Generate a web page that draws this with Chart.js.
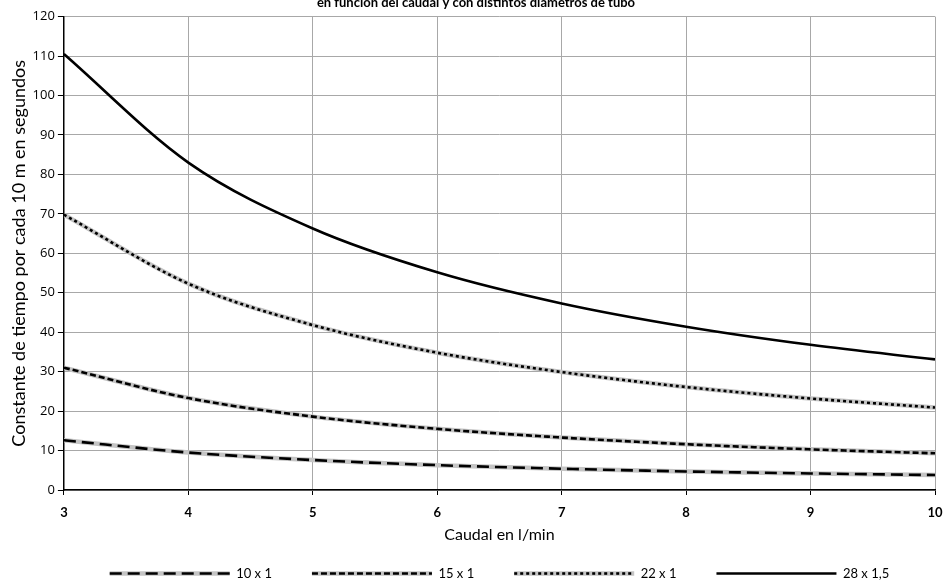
<!DOCTYPE html>
<html><head><meta charset="utf-8">
<script src="https://cdn.jsdelivr.net/npm/chart.js@4/dist/chart.umd.min.js"></script>
<style>
html,body{margin:0;padding:0;background:#fff;overflow:hidden;}
#wrap{width:944px;height:595px;margin-top:-5px;position:relative;}
</style></head><body>
<div id="wrap"><canvas id="c" width="944" height="595"></canvas></div>
<script>
const flows = [3, 4, 5, 6, 7, 8, 9, 10];
const seriesNames = ['10 x 1', '15 x 1', '22 x 1', '28 x 1,5'];
const s10x1 = [12.6, 9.5, 7.6, 6.3, 5.4, 4.7, 4.2, 3.8];
const s15x1 = [31.0, 23.3, 18.6, 15.5, 13.3, 11.6, 10.3, 9.3];
const s22x1 = [69.8, 52.3, 41.8, 34.8, 29.9, 26.1, 23.2, 20.9];
const s28x15 = [110.5, 83.0, 66.3, 55.2, 47.3, 41.4, 36.8, 33.1];
const yTicks = [0, 10, 20, 30, 40, 50, 60, 70, 80, 90, 100, 110, 120];
const titleText = 'en función del caudal y con distintos diámetros de tubo';
const xTitle = 'Caudal en l/min';
const yTitle = 'Constante de tiempo por cada 10 m en segundos';

const toPts = arr => flows.map((x, i) => ({x: x, y: arr[i]}));
const values = [s10x1, s15x1, s22x1, s28x15];
const dashes = [[12, 6], [6, 3], [3, 3], []];
const datasets = [];
values.forEach((v, i) => {
  if (dashes[i].length) {
    datasets.push({label: '_under' + i, data: toPts(v), borderColor: '#c4c4c4', borderWidth: 4.5,
      pointRadius: 0, cubicInterpolationMode: 'monotone', order: 10, _under: true});
  }
  datasets.push({label: seriesNames[i], data: toPts(v), borderColor: '#000', borderWidth: 2.6,
    borderDash: dashes[i], pointRadius: 0, cubicInterpolationMode: 'monotone', order: 1,
    _dashed: dashes[i].length > 0});
});

const LEG_LINE = 120;
const legendUnderlay = {
  id: 'legendUnderlay',
  beforeDraw(chart) {
    const lg = chart.legend;
    if (!lg || !lg.legendHitBoxes) return;
    const ctx = chart.ctx;
    lg.legendItems.forEach((item, i) => {
      const ds = chart.data.datasets[item.datasetIndex];
      if (!ds || !ds._dashed) return;
      const hb = lg.legendHitBoxes[i];
      const y = hb.top + hb.height / 2;
      ctx.save();
      ctx.strokeStyle = '#c4c4c4';
      ctx.lineWidth = 4.5;
      ctx.beginPath();
      ctx.moveTo(hb.left, y);
      ctx.lineTo(hb.left + LEG_LINE, y);
      ctx.stroke();
      ctx.restore();
    });
  }
};

new Chart(document.getElementById('c'), {
  type: 'line',
  data: {datasets: datasets},
  plugins: [legendUnderlay],
  options: {
    responsive: false,
    animation: false,
    layout: {padding: {left: 8, right: 0, top: 0, bottom: 0}},
    plugins: {
      title: {display: true, text: titleText, color: '#000',
        font: {family: 'Lato', size: 13, weight: 'bold'}, padding: {top: 0, bottom: 6}},
      legend: {
        position: 'bottom', fullSize: false,
        labels: {
          generateLabels(chart) {
            return chart.data.datasets.map((ds, i) => ({
              text: ds.label, datasetIndex: i, hidden: false,
              strokeStyle: '#000', fillStyle: '#000', lineWidth: 2.6,
              lineDash: ds.borderDash || [], pointStyle: 'line', fontColor: '#000'
            })).filter(it => !chart.data.datasets[it.datasetIndex]._under);
          },
          usePointStyle: true, pointStyle: 'line', pointStyleWidth: LEG_LINE, boxHeight: 8,
          color: '#000', font: {family: 'Lato', size: 13}, padding: 40
        }
      },
      tooltip: {enabled: false}
    },
    scales: {
      x: {
        type: 'linear', min: 3, max: 10,
        afterFit: s => { s.paddingRight = 9; },
        ticks: {stepSize: 1, color: '#000', font: {family: 'Lato', size: 13, weight: 'bold'}, padding: 10},
        grid: {color: '#a8a8a8', tickColor: '#000', tickLength: 5, lineWidth: 1},
        border: {color: '#000', width: 1.5},
        title: {display: true, text: xTitle, color: '#000', font: {family: 'Lato', size: 16}, padding: {top: -5.2, bottom: -17.6}}
      },
      y: {
        min: 0, max: 120,
        afterBuildTicks: axis => { axis.ticks = yTicks.map(v => ({value: v})); },
        ticks: {color: '#000', font: {family: 'Open Sans', size: 13}, padding: 3},
        grid: {color: '#a8a8a8', tickColor: '#000', tickLength: 6, lineWidth: 1},
        border: {color: '#000', width: 1.5},
        title: {display: true, text: yTitle, color: '#000', font: {family: 'Lato', size: 18}, padding: {top: 0, bottom: 0}}
      }
    }
  }
});
</script>
</body></html>
